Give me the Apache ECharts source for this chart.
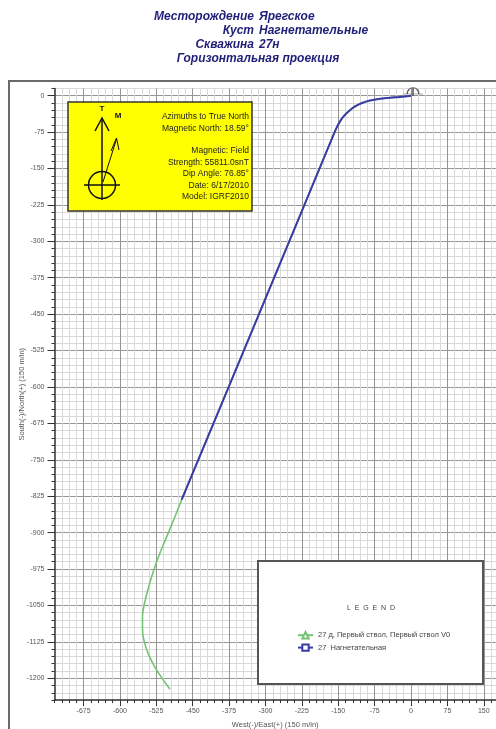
<!DOCTYPE html>
<html><head><meta charset="utf-8">
<script src="https://cdn.jsdelivr.net/npm/echarts@6.0.0/dist/echarts.min.js"></script>
<style>html,body{margin:0;padding:0;background:#fff}#c{width:496px;height:729px}</style>
</head><body><div id="c"></div>
<script>
// ---- data (East = x, North = y, metres) ----
const seriesNames = ['27 д, Первый ствол, Первый ствол V0', '27  Нагнетательная'];

const planEast = [0, -22.7, -43.3, -63.9, -84.5, -101, -115.5, -127.8, -138.1, -146.4, -153.6, -159.8, -165, -301, -472.8,
  -489, -506, -519.6, -532, -542.3, -549.5, -553.6, -553.6, -549.5, -541.2, -528.9, -514.4, -496.9];
const planNorth = [0, -2.7, -4.1, -6.4, -9.9, -15, -22.2, -31.5, -41.6, -52.9, -66.3, -80.7, -93.2, -420.2, -832,
  -873, -914, -947.1, -982, -1017, -1046, -1072.6, -1099.4, -1126.1, -1150.8, -1175.5, -1198.1, -1222.8];

const wellEast = [0, -22.7, -43.3, -63.9, -84.5, -101, -115.5, -127.8, -138.1, -146.4, -153.6, -159.8, -165, -301, -472.8];
const wellNorth = [0, -2.7, -4.1, -6.4, -9.9, -15, -22.2, -31.5, -41.6, -52.9, -66.3, -80.7, -93.2, -420.2, -832];

const wellhead = [0, 0];

const xTicks = [-675, -600, -525, -450, -375, -300, -225, -150, -75, 0, 75, 150];
const yTicks = [-1200, -1125, -1050, -975, -900, -825, -750, -675, -600, -525, -450, -375, -300, -225, -150, -75, 0];

// ---- styling ----
const FONT = "'Liberation Sans', Arial, sans-serif";
const MINOR = '#d9d9d9', MAJOR = '#959595';
const X_MIN = -735, X_MAX = 175, Y_MIN = -1245, Y_MAX = 15, STEP = 15;
const isMajor = v => Math.abs(v % 75) < 1e-6;
const xColors = [MINOR, MINOR, MINOR, MINOR, MAJOR];
const yColors = [MINOR, MINOR, MINOR, MAJOR, MINOR];

const zip = (a, b) => a.map((v, i) => [v, b[i]]);

const chart = echarts.init(document.getElementById('c'), null, {renderer: 'canvas'});

const titleStyle = {font: "italic bold 12px " + FONT, fill: '#1f1f78', textVerticalAlign: 'middle'};
const boxText = {font: "8.5px " + FONT, fill: '#222', textAlign: 'right', textVerticalAlign: 'middle'};
const boxLines = [
  ['Azimuths to True North', 117], ['Magnetic North: 18.59°', 128.5],
  ['Magnetic: Field', 151], ['Strength: 55811.0snT', 162.5], ['Dip Angle: 76.85°', 174],
  ['Date: 6/17/2010', 185.5], ['Model: IGRF2010', 197]
];

const graphics = [
  // titles
  {type: 'text', x: 254, y: 17, style: Object.assign({text: 'Месторождение', textAlign: 'right'}, titleStyle)},
  {type: 'text', x: 259, y: 17, style: Object.assign({text: 'Ярегское', textAlign: 'left'}, titleStyle)},
  {type: 'text', x: 254, y: 31, style: Object.assign({text: 'Куст', textAlign: 'right'}, titleStyle)},
  {type: 'text', x: 259, y: 31, style: Object.assign({text: 'Нагнетательные', textAlign: 'left'}, titleStyle)},
  {type: 'text', x: 254, y: 45, style: Object.assign({text: 'Скважина', textAlign: 'right'}, titleStyle)},
  {type: 'text', x: 259, y: 45, style: Object.assign({text: '27н', textAlign: 'left'}, titleStyle)},
  {type: 'text', x: 258, y: 59, style: Object.assign({text: 'Горизонтальная проекция', textAlign: 'center'}, titleStyle)},
  // outer frame
  {type: 'rect', z: 1, silent: true, shape: {x: 9, y: 81, width: 600, height: 700},
   style: {fill: 'none', stroke: '#6a6a6a', lineWidth: 2}},
  // yellow info box
  {type: 'rect', z: 10, shape: {x: 68, y: 102, width: 184, height: 109},
   style: {fill: '#ffff00', stroke: '#333', lineWidth: 1.5}},
  ...boxLines.map(([t, y]) => ({type: 'text', z: 11, x: 249, y: y, style: Object.assign({text: t}, boxText)})),
  // compass
  {type: 'line', z: 11, shape: {x1: 102, y1: 118, x2: 102, y2: 200}, style: {stroke: '#111', lineWidth: 1.5}},
  {type: 'polyline', z: 11, shape: {points: [[95, 131], [102, 118], [109, 131]]}, style: {stroke: '#111', lineWidth: 1.5, fill: 'none'}},
  {type: 'text', z: 11, x: 102, y: 109, style: {text: 'T', font: 'bold 8px ' + FONT, fill: '#111', textAlign: 'center', textVerticalAlign: 'middle'}},
  {type: 'text', z: 11, x: 118, y: 116, style: {text: 'M', font: 'bold 8px ' + FONT, fill: '#111', textAlign: 'center', textVerticalAlign: 'middle'}},
  {type: 'line', z: 11, shape: {x1: 103, y1: 182, x2: 116.5, y2: 139}, style: {stroke: '#111', lineWidth: 1}},
  {type: 'polyline', z: 11, shape: {points: [[111, 151], [116.5, 138], [119, 150]]}, style: {stroke: '#111', lineWidth: 1, fill: 'none'}},
  {type: 'circle', z: 11, shape: {cx: 102, cy: 185, r: 13.5}, style: {fill: 'none', stroke: '#111', lineWidth: 1.5}},
  {type: 'line', z: 11, shape: {x1: 84, y1: 185, x2: 120, y2: 185}, style: {stroke: '#111', lineWidth: 1.5}},
  // legend box
  {type: 'rect', z: 10, shape: {x: 258, y: 561, width: 225, height: 123},
   style: {fill: '#fff', stroke: '#555', lineWidth: 2}},
  {type: 'text', z: 11, x: 371, y: 608, style: {text: 'L  E  G  E  N  D', font: '7px ' + FONT, fill: '#444', textAlign: 'center', textVerticalAlign: 'middle'}}
];

const option = {
  animation: false,
  backgroundColor: '#fff',
  textStyle: {fontFamily: FONT},
  grid: {left: 54.5, top: 88.4, width: 441.4, height: 611.7, outerBoundsMode: 'none', containLabel: false},
  xAxis: [
    {type: 'value', min: X_MIN, max: X_MAX, interval: STEP, position: 'bottom',
     name: 'West(-)/East(+) (150 m/in)', nameLocation: 'middle', nameGap: 21, nameMoveOverlap: false,
     nameTextStyle: {fontSize: 7.5, color: '#555', fontFamily: FONT},
     axisLine: {onZero: false, lineStyle: {color: '#333', width: 1.5}},
     axisTick: {length: 3, lineStyle: {color: '#333'}},
     axisLabel: {fontSize: 7, color: '#555', margin: 7, fontFamily: FONT, formatter: v => isMajor(v) ? String(v) : ''},
     splitLine: {show: true, lineStyle: {color: xColors, width: 1}}},
    {type: 'value', min: X_MIN, max: X_MAX, position: 'bottom',
     axisLine: {show: false, onZero: false},
     axisTick: {show: true, length: 6, customValues: xTicks, lineStyle: {color: '#333'}},
     axisLabel: {show: false}, splitLine: {show: false}}
  ],
  yAxis: [
    {type: 'value', min: Y_MIN, max: Y_MAX, interval: STEP, position: 'left',
     name: 'South(-)/North(+) (150 m/in)', nameLocation: 'middle', nameGap: 29, nameRotate: 90, nameMoveOverlap: false,
     nameTextStyle: {fontSize: 7.5, color: '#555', fontFamily: FONT},
     axisLine: {onZero: false, lineStyle: {color: '#333', width: 1.5}},
     axisTick: {length: 3, lineStyle: {color: '#333'}},
     axisLabel: {fontSize: 7, color: '#555', margin: 10, fontFamily: FONT, formatter: v => isMajor(v) ? String(v) : ''},
     splitLine: {show: true, lineStyle: {color: yColors, width: 1}}},
    {type: 'value', min: Y_MIN, max: Y_MAX, position: 'left',
     axisLine: {show: false, onZero: false},
     axisTick: {show: true, length: 7, customValues: yTicks, lineStyle: {color: '#333'}},
     axisLabel: {show: false}, splitLine: {show: false}}
  ],
  legend: {
    orient: 'vertical', left: 297, top: 631, padding: 0, itemGap: 4, itemWidth: 15, itemHeight: 8, z: 20,
    textStyle: {fontSize: 7.5, color: '#444', fontFamily: FONT},
    data: seriesNames
  },
  series: [
    {name: seriesNames[0], type: 'line', xAxisIndex: 0, yAxisIndex: 0, data: zip(planEast, planNorth),
     smooth: 0.4, showSymbol: false, symbol: 'emptyTriangle', symbolSize: 7,
     lineStyle: {color: '#74c474', width: 1.6}, itemStyle: {color: '#74c474'}, z: 3},
    {name: seriesNames[1], type: 'line', xAxisIndex: 0, yAxisIndex: 0, data: zip(wellEast, wellNorth),
     smooth: 0.3, showSymbol: false, symbol: 'emptyRect', symbolSize: 7,
     lineStyle: {color: '#3b3ba6', width: 2}, itemStyle: {color: '#3b3ba6'}, z: 4},
    {name: 'wellhead', type: 'scatter', xAxisIndex: 0, yAxisIndex: 0, data: [wellhead],
     symbol: 'path://M0,10 L24,10 M5,10 C5,0 19,0 19,10 M12,3 L12,12', symbolSize: [20, 8], symbolOffset: [2, -4],
     itemStyle: {color: 'rgba(0,0,0,0)', borderColor: '#333', borderWidth: 1}, z: 5, silent: true}
  ],
  graphic: graphics
};
chart.setOption(option);
</script></body></html>
